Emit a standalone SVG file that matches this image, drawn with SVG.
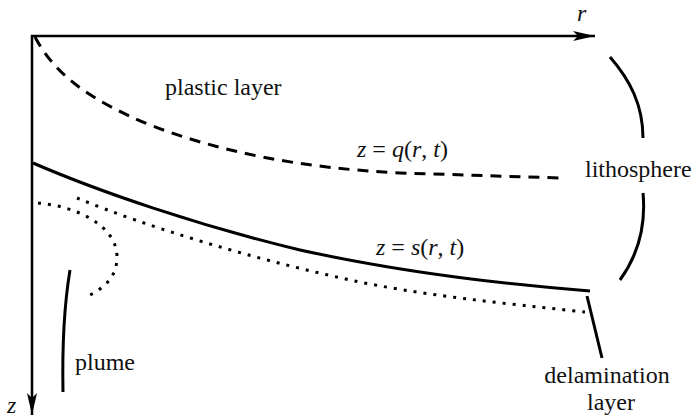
<svg xmlns="http://www.w3.org/2000/svg" width="695" height="418" viewBox="0 0 695 418">
<style>
  text { font-family: "Liberation Serif", "DejaVu Serif", "Times New Roman", serif; font-size: 24px; fill: #111; }
  .it { font-style: italic; }
  .ln { fill: none; stroke: #000; stroke-width: 3; }
  .axis { fill: none; stroke: #000; stroke-width: 2.5; }
  .dash { stroke-dasharray: 11 8; }
  .dot { stroke-dasharray: 3 7; }
</style>
<defs>
  <marker id="ah" markerUnits="userSpaceOnUse" markerWidth="24" markerHeight="12" refX="22" refY="6" orient="auto">
    <path d="M0,1 L22,6 L0,11 L5,6 Z" fill="#000"/>
  </marker>
</defs>
<g id="connectors">
  <path id="r-axis" class="axis" d="M31,36 L595,36" marker-end="url(#ah)"/>
  <path id="z-axis" class="axis" d="M32,35 L32,415" marker-end="url(#ah)"/>
  <path id="q-curve" class="ln dash" d="M35,37 C55,75 90,100 150,125 C220,152 300,168 400,173 L562,178"/>
  <path id="s-curve" class="ln" d="M33,163 C100,192 200,226 300,250 C400,272 500,284 590,291"/>
  <path id="lower-dotted" class="ln dot" d="M77,198 C150,228 250,258 350,280 C420,295 500,303 585,312"/>
  <path id="plume-head" class="ln dot" d="M38,203 C75,206 117,225 117,257 C117,280 100,290 88,296"/>
  <path id="plume-line" class="ln" stroke-width="3.5" d="M70,270 C65,300 62,340 63,392"/>
  <path id="litho-upper" class="ln" d="M610,57 C630,80 643,105 643,138"/>
  <path id="litho-lower" class="ln" d="M643,193 C646,225 638,255 620,280"/>
  <path id="delam-line" class="ln" d="M587,296 L602,358"/>
</g>
<g id="label-r"><text class="it" font-family="Liberation Serif, serif" x="577" y="21">r</text></g>
<g id="label-z"><text class="it" font-family="Liberation Serif, serif" x="7" y="413">z</text></g>
<g id="label-plastic"><text font-family="Liberation Serif, serif" x="165" y="95">plastic layer</text></g>
<g id="label-q"><text class="it" font-family="Liberation Serif, serif" x="357" y="157">z <tspan font-style="normal">=</tspan> q<tspan font-style="normal">(</tspan>r<tspan font-style="normal">,</tspan> t<tspan font-style="normal">)</tspan></text></g>
<g id="label-lithosphere"><text font-family="Liberation Serif, serif" x="585" y="177">lithosphere</text></g>
<g id="label-s"><text class="it" font-family="Liberation Serif, serif" x="376" y="255">z <tspan font-style="normal">=</tspan> s<tspan font-style="normal">(</tspan>r<tspan font-style="normal">,</tspan> t<tspan font-style="normal">)</tspan></text></g>
<g id="label-plume"><text font-family="Liberation Serif, serif" x="75" y="370">plume</text></g>
<g id="label-delamination"><text font-family="Liberation Serif, serif" x="607" y="383" text-anchor="middle">delamination</text><text font-family="Liberation Serif, serif" x="611" y="410" text-anchor="middle">layer</text></g>
</svg>
